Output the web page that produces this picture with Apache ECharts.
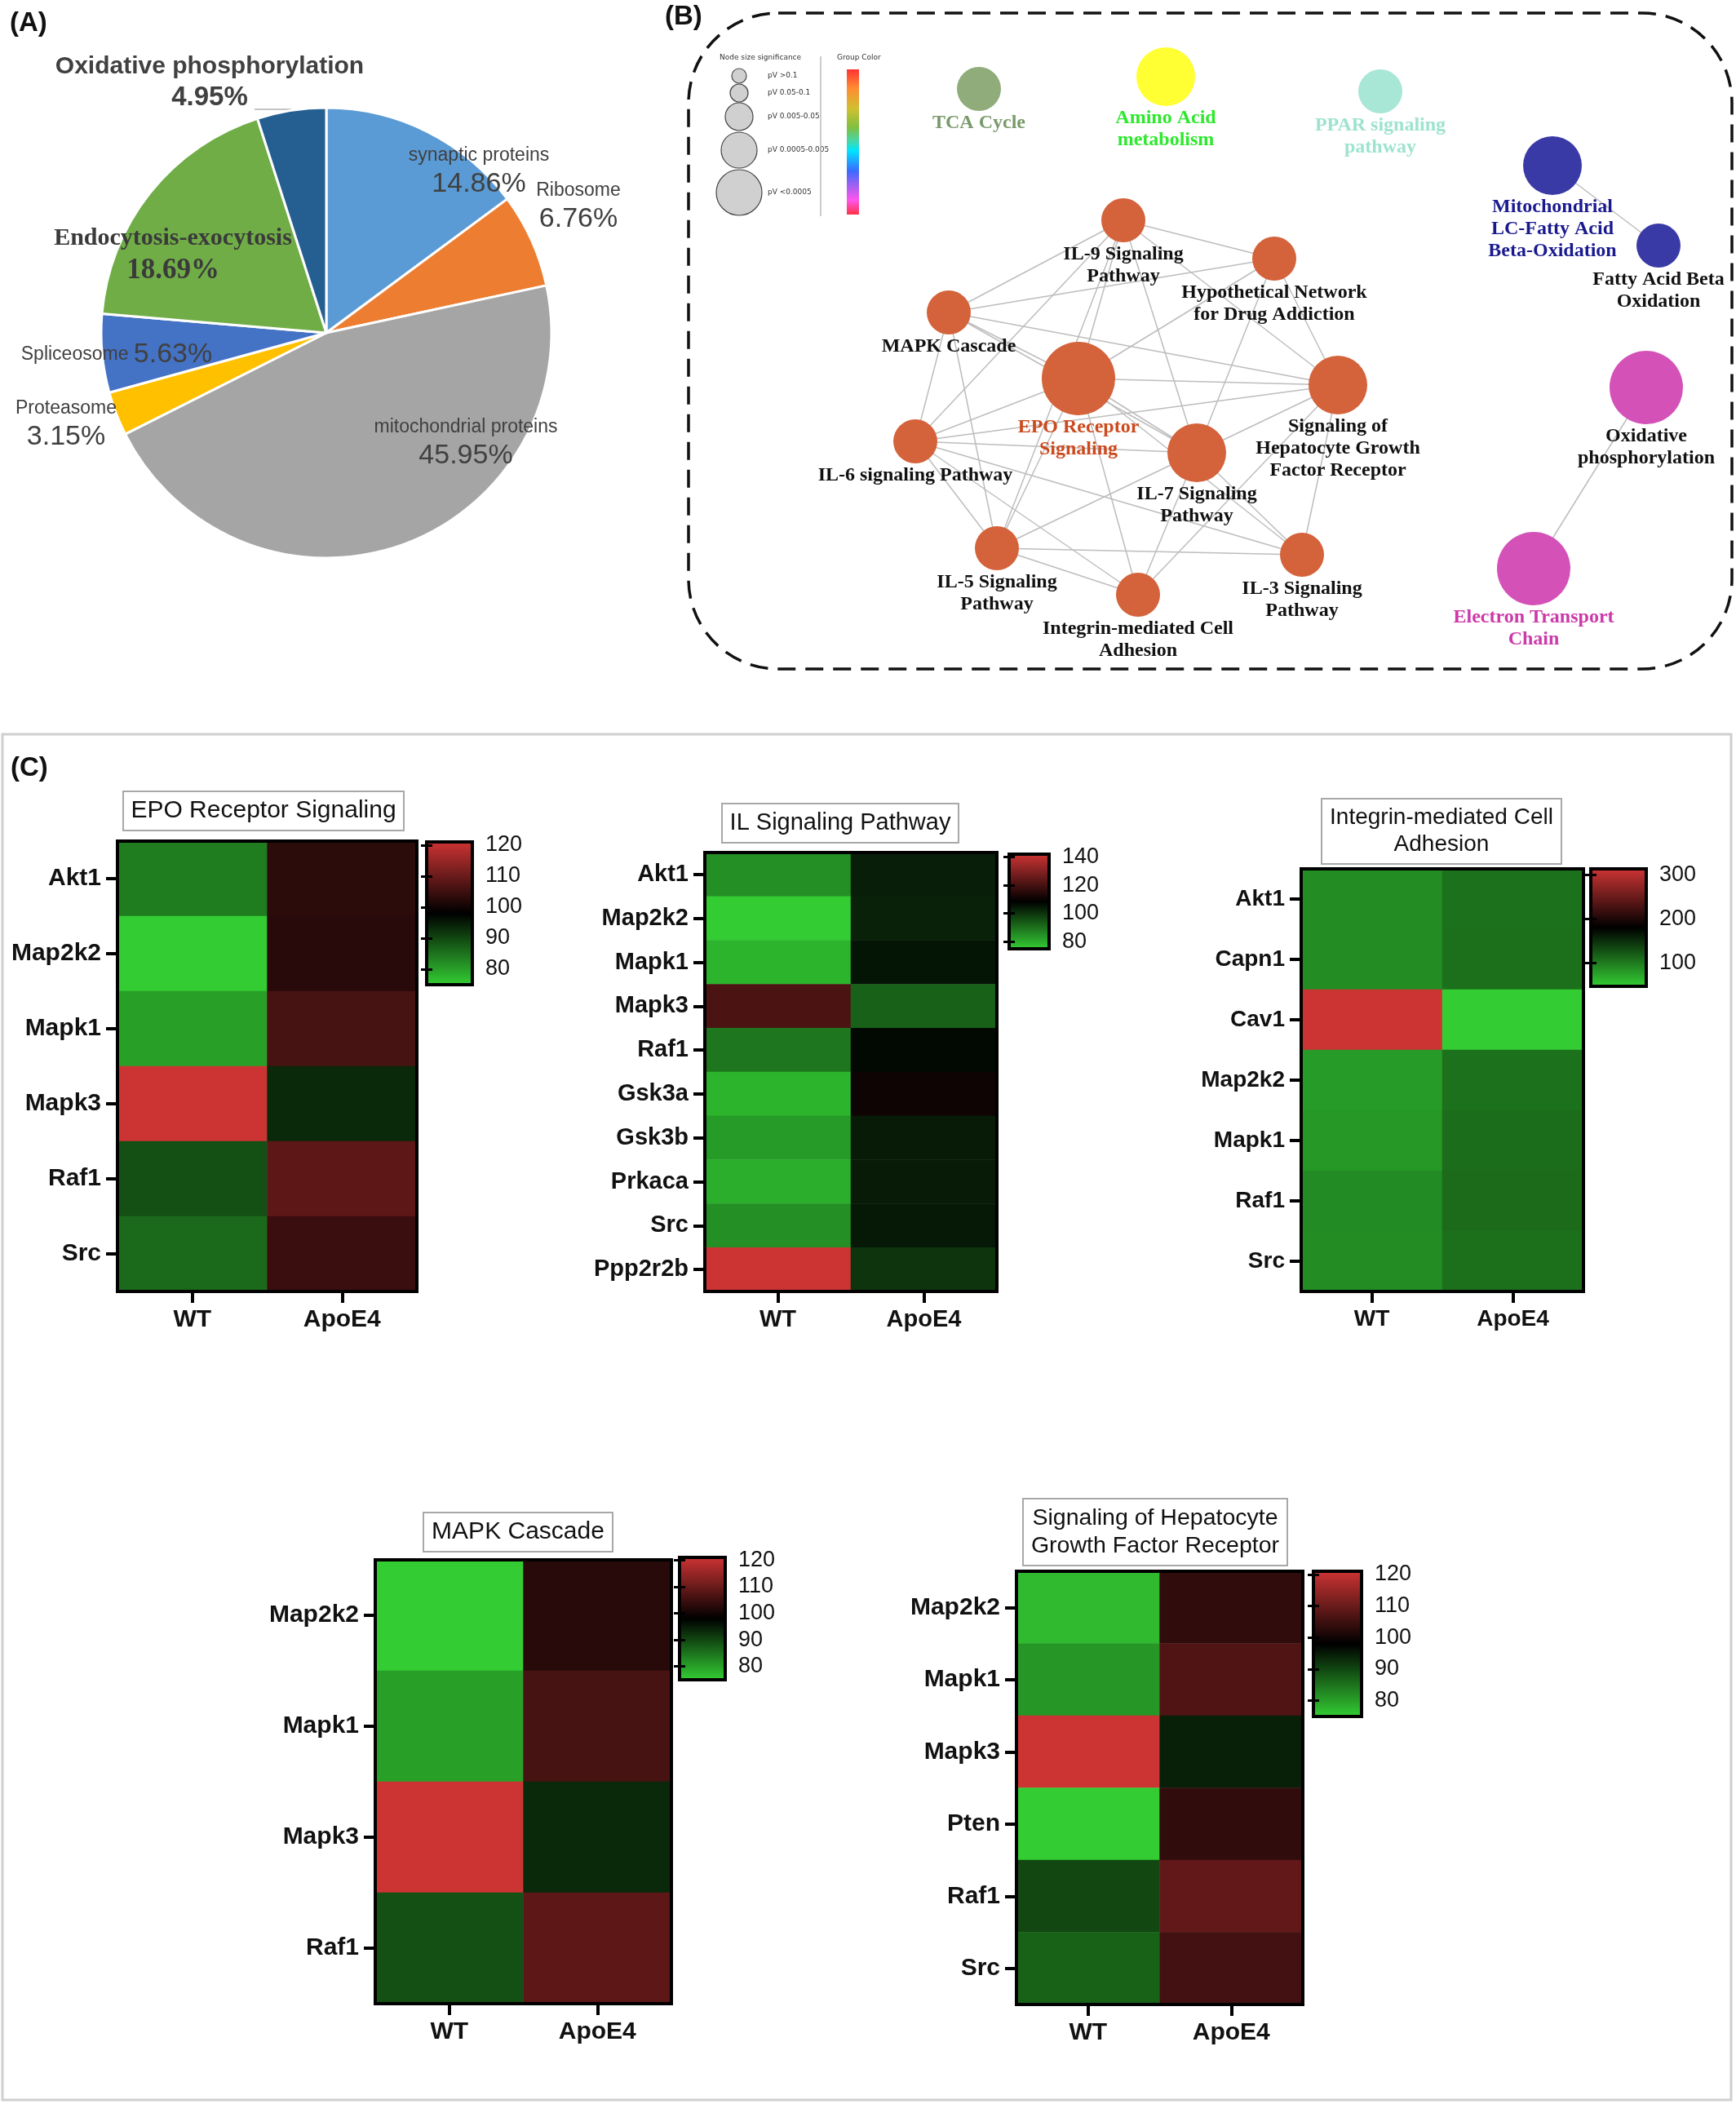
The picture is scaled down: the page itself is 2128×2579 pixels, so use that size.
<!DOCTYPE html>
<html><head><meta charset="utf-8">
<script src="https://cdn.jsdelivr.net/npm/echarts@6/dist/echarts.min.js"></script>
<style>html,body{margin:0;padding:0;background:#fff}#c{width:2128px;height:2579px}</style>
</head><body><div id="c"></div>
<script>
// ================= DATA =================
// (A) pie
const pieNames = ['synaptic proteins','Ribosome','mitochondrial proteins','Proteasome','Spliceosome','Endocytosis-exocytosis','Oxidative phosphorylation'];
const pieValues = [14.86, 6.76, 45.95, 3.15, 5.63, 18.69, 4.95];

// (B) network
const netNodes = ['IL-9 Signaling Pathway','Hypothetical Network for Drug Addiction','MAPK Cascade','EPO Receptor Signaling',
  'Signaling of Hepatocyte Growth Factor Receptor','IL-6 signaling Pathway','IL-7 Signaling Pathway','IL-5 Signaling Pathway',
  'Integrin-mediated Cell Adhesion','IL-3 Signaling Pathway','TCA Cycle','Amino Acid metabolism','PPAR signaling pathway',
  'Mitochondrial LC-Fatty Acid Beta-Oxidation','Fatty Acid Beta Oxidation','Oxidative phosphorylation','Electron Transport Chain'];
const netLinks = [
  ['IL-9 Signaling Pathway','MAPK Cascade'],['IL-9 Signaling Pathway','Hypothetical Network for Drug Addiction'],
  ['IL-9 Signaling Pathway','EPO Receptor Signaling'],['IL-9 Signaling Pathway','IL-6 signaling Pathway'],
  ['IL-9 Signaling Pathway','IL-5 Signaling Pathway'],['IL-9 Signaling Pathway','IL-7 Signaling Pathway'],
  ['IL-9 Signaling Pathway','Signaling of Hepatocyte Growth Factor Receptor'],
  ['MAPK Cascade','Hypothetical Network for Drug Addiction'],['MAPK Cascade','Signaling of Hepatocyte Growth Factor Receptor'],
  ['MAPK Cascade','EPO Receptor Signaling'],['MAPK Cascade','IL-7 Signaling Pathway'],['MAPK Cascade','IL-6 signaling Pathway'],
  ['MAPK Cascade','IL-5 Signaling Pathway'],
  ['Hypothetical Network for Drug Addiction','EPO Receptor Signaling'],['Hypothetical Network for Drug Addiction','Signaling of Hepatocyte Growth Factor Receptor'],
  ['Hypothetical Network for Drug Addiction','IL-7 Signaling Pathway'],
  ['EPO Receptor Signaling','Signaling of Hepatocyte Growth Factor Receptor'],['EPO Receptor Signaling','IL-7 Signaling Pathway'],
  ['EPO Receptor Signaling','IL-6 signaling Pathway'],['EPO Receptor Signaling','IL-5 Signaling Pathway'],
  ['EPO Receptor Signaling','Integrin-mediated Cell Adhesion'],['EPO Receptor Signaling','IL-3 Signaling Pathway'],
  ['IL-6 signaling Pathway','Signaling of Hepatocyte Growth Factor Receptor'],['IL-6 signaling Pathway','IL-7 Signaling Pathway'],
  ['IL-6 signaling Pathway','IL-5 Signaling Pathway'],['IL-6 signaling Pathway','Integrin-mediated Cell Adhesion'],
  ['IL-6 signaling Pathway','IL-3 Signaling Pathway'],
  ['IL-7 Signaling Pathway','Integrin-mediated Cell Adhesion'],['IL-7 Signaling Pathway','IL-3 Signaling Pathway'],
  ['Signaling of Hepatocyte Growth Factor Receptor','IL-5 Signaling Pathway'],['Signaling of Hepatocyte Growth Factor Receptor','Integrin-mediated Cell Adhesion'],
  ['Signaling of Hepatocyte Growth Factor Receptor','IL-3 Signaling Pathway'],
  ['IL-5 Signaling Pathway','IL-3 Signaling Pathway'],['IL-5 Signaling Pathway','Integrin-mediated Cell Adhesion'],
  ['Mitochondrial LC-Fatty Acid Beta-Oxidation','Fatty Acid Beta Oxidation'],
  ['Oxidative phosphorylation','Electron Transport Chain']
];
const sigLegendLabels = ['pV >0.1','pV 0.05-0.1','pV 0.005-0.05','pV 0.0005-0.005','pV <0.0005'];

// (C) heatmaps
const heatGroups = ['WT','ApoE4'];
const epoGenes = ['Akt1','Map2k2','Mapk1','Mapk3','Raf1','Src'];
const epoWT    = [84, 75, 80, 121, 89, 86];
const epoApoE4 = [103, 102.5, 106, 93.5, 108.5, 104.5];
const epoRange = [75, 121];
const epoTicks = [80, 90, 100, 110, 120];

const ilGenes = ['Akt1','Map2k2','Mapk1','Mapk3','Raf1','Gsk3a','Gsk3b','Prkaca','Src','Ppp2r2b'];
const ilWT    = [85, 75, 79, 121, 89, 79, 83, 80, 85, 142];
const ilApoE4 = [103.5, 103, 105, 92.5, 107, 111, 104, 104, 104.5, 100];
const ilRange = [75, 142];
const ilTicks = [80, 100, 120, 140];

const intGenes = ['Akt1','Capn1','Cav1','Map2k2','Mapk1','Raf1','Src'];
const intWT    = [89, 89, 313, 80, 82, 90, 89];
const intApoE4 = [107, 108, 48, 107, 110, 111, 108];
const intRange = [48, 313];
const intTicks = [100, 200, 300];

const mapkGenes = ['Map2k2','Mapk1','Mapk3','Raf1'];
const mapkWT    = [75, 80, 121, 89];
const mapkApoE4 = [102.5, 106, 93.5, 108.5];
const mapkRange = [75, 121];
const mapkTicks = [80, 90, 100, 110, 120];

const hgfGenes = ['Map2k2','Mapk1','Mapk3','Pten','Raf1','Src'];
const hgfWT    = [77, 81, 121, 75, 90, 87];
const hgfApoE4 = [103.5, 107, 94.5, 103.5, 109, 105.5];
const hgfRange = [75, 121];
const hgfTicks = [80, 90, 100, 110, 120];

// ================= STYLE / LAYOUT =================
const FS = '"Liberation Sans", Arial, sans-serif';
const FSERIF = '"Liberation Serif", "Times New Roman", serif';
const pieColors = ['#5b9bd5','#ed7d31','#a5a5a5','#ffc000','#4472c4','#70ad47','#255e91'];
const pieLabelPos = [[587,210],[709,253],[571,543],[81,520],[143,435],[212,313],[257,101]];

const panelB = {left:844, top:16, width:1280, height:805};
const netLayout = {
  'IL-9 Signaling Pathway':[533,254], 'Hypothetical Network for Drug Addiction':[718,301], 'MAPK Cascade':[319,367],
  'EPO Receptor Signaling':[478,448], 'Signaling of Hepatocyte Growth Factor Receptor':[796,456],
  'IL-6 signaling Pathway':[278,525], 'IL-7 Signaling Pathway':[623,539], 'IL-5 Signaling Pathway':[378,656],
  'Integrin-mediated Cell Adhesion':[551,713], 'IL-3 Signaling Pathway':[752,664], 'TCA Cycle':[356,93],
  'Amino Acid metabolism':[585,78], 'PPAR signaling pathway':[848,96], 'Mitochondrial LC-Fatty Acid Beta-Oxidation':[1059,187],
  'Fatty Acid Beta Oxidation':[1189,285], 'Oxidative phosphorylation':[1174,459], 'Electron Transport Chain':[1036,681]
};
const OR = '#d4623a';
const netStyle = {
  'IL-9 Signaling Pathway':{s:54,c:OR,t:'IL-9 Signaling\nPathway'},
  'Hypothetical Network for Drug Addiction':{s:54,c:OR,t:'Hypothetical Network\nfor Drug Addiction'},
  'MAPK Cascade':{s:54,c:OR,t:'MAPK Cascade'},
  'EPO Receptor Signaling':{s:90,c:OR,t:'EPO Receptor\nSignaling',l:'#cc4a1e'},
  'Signaling of Hepatocyte Growth Factor Receptor':{s:72,c:OR,t:'Signaling of\nHepatocyte Growth\nFactor Receptor'},
  'IL-6 signaling Pathway':{s:54,c:OR,t:'IL-6 signaling Pathway'},
  'IL-7 Signaling Pathway':{s:72,c:OR,t:'IL-7 Signaling\nPathway'},
  'IL-5 Signaling Pathway':{s:54,c:OR,t:'IL-5 Signaling\nPathway'},
  'Integrin-mediated Cell Adhesion':{s:54,c:OR,t:'Integrin-mediated Cell\nAdhesion'},
  'IL-3 Signaling Pathway':{s:54,c:OR,t:'IL-3 Signaling\nPathway'},
  'TCA Cycle':{s:54,c:'#8fac7a',t:'TCA Cycle',l:'#7a9a6a'},
  'Amino Acid metabolism':{s:72,c:'#ffff33',t:'Amino Acid\nmetabolism',l:'#2ee82e'},
  'PPAR signaling pathway':{s:54,c:'#a8e6d6',t:'PPAR signaling\npathway',l:'#9ee3cf'},
  'Mitochondrial LC-Fatty Acid Beta-Oxidation':{s:72,c:'#3a3aa6',t:'Mitochondrial\nLC-Fatty Acid\nBeta-Oxidation',l:'#1a1a8f'},
  'Fatty Acid Beta Oxidation':{s:54,c:'#3a3aa6',t:'Fatty Acid Beta\nOxidation'},
  'Oxidative phosphorylation':{s:90,c:'#d452b8',t:'Oxidative\nphosphorylation'},
  'Electron Transport Chain':{s:90,c:'#d452b8',t:'Electron Transport\nChain',l:'#cc3aaa'}
};

const heatData = [
  {title:'EPO Receptor Signaling', genes:epoGenes, wt:epoWT, apo:epoApoE4, range:epoRange, ticks:epoTicks, split:5},
  {title:'IL Signaling Pathway', genes:ilGenes, wt:ilWT, apo:ilApoE4, range:ilRange, ticks:ilTicks, split:4},
  {title:'Integrin-mediated Cell\nAdhesion', genes:intGenes, wt:intWT, apo:intApoE4, range:intRange, ticks:intTicks, split:3},
  {title:'MAPK Cascade', genes:mapkGenes, wt:mapkWT, apo:mapkApoE4, range:mapkRange, ticks:mapkTicks, split:5},
  {title:'Signaling of Hepatocyte\nGrowth Factor Receptor', genes:hgfGenes, wt:hgfWT, apo:hgfApoE4, range:hgfRange, ticks:hgfTicks, split:5}
];
const heatLayout = [
  {grid:[144,1031,367,552], bar:[523,1032,56,175], title:[313,970], tf:30, tlh:34, lf:30},
  {grid:[864,1045,358,538], bar:[1237,1047,49,116], title:[1020,985], tf:29, tlh:34, lf:29},
  {grid:[1595,1065,346,518], bar:[1950,1065,68,144], title:[1757,979], tf:28, tlh:33, lf:28},
  {grid:[460,1912,363,544], bar:[833,1909,56,150], title:[625,1854], tf:30, tlh:34, lf:30},
  {grid:[1246,1926,351,531], bar:[1610,1926,59,178], title:[1406,1837], tf:28.5, tlh:34, lf:30}
];
const heatColors = ['#33cc33','#000000','#cc3333'];

// ================= OPTION =================
const grids = [], xAxes = [], yAxes = [], series = [], visualMaps = [], titles = [];

grids.push({left:panelB.left, top:panelB.top, width:panelB.width, height:panelB.height, show:false});
xAxes.push({type:'value', gridIndex:0, min:0, max:panelB.width, show:false});
yAxes.push({type:'value', gridIndex:0, min:0, max:panelB.height, inverse:true, show:false});

// pie
series.push({
  type:'pie', center:[400,408], radius:276, startAngle:90, clockwise:true, silent:true,
  itemStyle:{borderColor:'#fff', borderWidth:3},
  labelLine:{show:false},
  label:{show:true, position:'inside', color:'#404040', fontFamily:FS,
    rich:{
      n:{fontSize:23, color:'#404040', fontFamily:FS, lineHeight:31},
      p:{fontSize:34, color:'#404040', fontFamily:FS, lineHeight:39},
      ob:{fontSize:30, fontWeight:'bold', color:'#404040', fontFamily:FS, lineHeight:37},
      obp:{fontSize:33, fontWeight:'bold', color:'#404040', fontFamily:FS, lineHeight:39},
      eb:{fontSize:30, fontWeight:'bold', color:'#3a3a3a', fontFamily:FSERIF, lineHeight:37},
      ebp:{fontSize:35, fontWeight:'bold', color:'#3a3a3a', fontFamily:FSERIF, lineHeight:41}
    },
    formatter:function(p){
      const v = p.value.toFixed(2) + '%';
      if (p.name === 'Spliceosome') return '{n|' + p.name + ' }{p|' + v + '}';
      if (p.name === 'Oxidative phosphorylation') return '{ob|' + p.name + '}\n{obp|' + v + '}';
      if (p.name === 'Endocytosis-exocytosis') return '{eb|' + p.name + '}\n{ebp|' + v + '}';
      return '{n|' + p.name + '}\n{p|' + v + '}';
    }
  },
  labelLayout:function(p){ const q = pieLabelPos[p.dataIndex]; return {x:q[0], y:q[1], align:'center', verticalAlign:'middle'}; },
  data: pieNames.map((n,i)=>({name:n, value:pieValues[i], itemStyle:{color:pieColors[i]}}))
});

// network graph
series.push({
  type:'graph', layout:'none', coordinateSystem:'cartesian2d', xAxisIndex:0, yAxisIndex:0, silent:true, z:3,
  lineStyle:{color:'#bdbdbd', width:1.5, opacity:1},
  label:{show:true, position:'bottom', distance:1, fontFamily:FSERIF, fontWeight:'bold', fontSize:24, lineHeight:27, align:'center', color:'#111'},
  data: netNodes.map(n=>({name:n, value:netLayout[n], symbolSize:netStyle[n].s, itemStyle:{color:netStyle[n].c},
    label:{formatter:netStyle[n].t, color:netStyle[n].l || '#111'}})),
  links: netLinks.map(l=>({source:l[0], target:l[1]}))
});

// heatmaps
heatData.forEach((h,k)=>{
  const L = heatLayout[k];
  const gi = grids.length;
  grids.push({left:L.grid[0], top:L.grid[1], width:L.grid[2], height:L.grid[3], show:true, z:10,
    borderColor:'#000', borderWidth:4, backgroundColor:'transparent'});
  const axisCommon = {axisLine:{show:false}, splitLine:{show:false},
    axisTick:{show:true, alignWithLabel:true, length:14, lineStyle:{color:'#000', width:4}},
    axisLabel:{fontFamily:FS, fontWeight:'bold', fontSize:L.lf, color:'#111', margin:20}};
  xAxes.push(Object.assign({type:'category', gridIndex:gi, data:heatGroups, position:'bottom'}, axisCommon));
  yAxes.push(Object.assign({type:'category', gridIndex:gi, data:h.genes, inverse:true, position:'left'}, axisCommon));
  const data = [];
  h.genes.forEach((g,r)=>{ data.push([0, r, h.wt[r]]); data.push([1, r, h.apo[r]]); });
  const si = series.length;
  series.push({type:'heatmap', xAxisIndex:xAxes.length-1, yAxisIndex:yAxes.length-1, data:data, silent:true,
    itemStyle:{borderWidth:0}, progressive:0});
  visualMaps.push({type:'continuous', seriesIndex:si, min:h.range[0], max:h.range[1], calculable:false,
    left:L.bar[0], top:L.bar[1], itemWidth:L.bar[2], itemHeight:L.bar[3], padding:0, hoverLink:false,
    inRange:{color:heatColors}, textStyle:{fontSize:1}});
  titles.push({text:h.title, left:L.title[0], top:L.title[1], textAlign:'center',
    borderColor:'#a8a8a8', borderWidth:2, padding:[7,10],
    textStyle:{fontFamily:FS, fontWeight:'normal', fontSize:L.tf, lineHeight:L.tlh, color:'#111'}});
});
// colorbar frames with tick labels
heatData.forEach((h,k)=>{
  const L = heatLayout[k];
  const gi = grids.length;
  grids.push({left:L.bar[0], top:L.bar[1], width:L.bar[2], height:L.bar[3], show:true, z:10,
    borderColor:'#000', borderWidth:4, backgroundColor:'transparent'});
  xAxes.push({type:'value', gridIndex:gi, show:false, min:0, max:1});
  const fmt = v => (h.ticks.indexOf(Math.round(v)) >= 0 && Math.abs(v - Math.round(v)) < 1e-6) ? String(Math.round(v)) : '';
  const base = {type:'value', gridIndex:gi, min:h.range[0], max:h.range[1], splitNumber:h.split, z:12,
    axisLine:{show:false}, splitLine:{show:false},
    axisTick:{show:true, inside:true, length:7, customValues:h.ticks, lineStyle:{color:'#000', width:3}}};
  yAxes.push(Object.assign({}, base, {position:'right',
    axisLabel:{show:true, fontFamily:FS, fontSize:27, color:'#111', margin:16, formatter:fmt, customValues:h.ticks}}));
  yAxes.push(Object.assign({}, base, {position:'left', axisLabel:{show:false}}));
});

titles.push({text:'(A)', left:12, top:12, textStyle:{fontFamily:FS, fontWeight:'bold', fontSize:33, color:'#111'}, padding:0});
titles.push({text:'(B)', left:815, top:4, textStyle:{fontFamily:FS, fontWeight:'bold', fontSize:33, color:'#111'}, padding:0});
titles.push({text:'(C)', left:13, top:925, textStyle:{fontFamily:FS, fontWeight:'bold', fontSize:33, color:'#111'}, padding:0});

// graphics: panel frames and network legend
const graphics = [];
graphics.push({type:'rect', z:-1, silent:true, shape:{x:3, y:900, width:2119, height:1674},
  style:{fill:'none', stroke:'#cfcfcf', lineWidth:3}});
graphics.push({type:'rect', z:-1, silent:true, shape:{x:844, y:16, width:1279, height:804, r:110},
  style:{fill:'none', stroke:'#111', lineWidth:3.5, lineDash:[22,12]}});
graphics.push({type:'line', silent:true, shape:{x1:312, y1:134, x2:357, y2:134}, style:{stroke:'#b0b0b0', lineWidth:1.5}});
const legCirc = [[93,9],[114,11],[143,17],[184,22],[236,28]];
graphics.push({type:'text', silent:true, style:{x:882, y:71, text:'Node size significance', fontFamily:'"DejaVu Sans", sans-serif', fontSize:9, fill:'#333', verticalAlign:'middle'}});
legCirc.forEach((c,i)=>{
  graphics.push({type:'circle', silent:true, shape:{cx:906, cy:c[0], r:c[1]}, style:{fill:'#d0d0d0', stroke:'#444', lineWidth:1.2}});
  graphics.push({type:'text', silent:true, style:{x:941, y:c[0], text:sigLegendLabels[i], fontFamily:'"DejaVu Sans", sans-serif', fontSize:9, fill:'#333', verticalAlign:'middle'}});
});
graphics.push({type:'line', silent:true, shape:{x1:1006, y1:69, x2:1006, y2:265}, style:{stroke:'#bbb', lineWidth:1.5}});
graphics.push({type:'text', silent:true, style:{x:1026, y:71, text:'Group Color', fontFamily:'"DejaVu Sans", sans-serif', fontSize:9, fill:'#333', verticalAlign:'middle'}});
graphics.push({type:'rect', silent:true, shape:{x:1038, y:85, width:15, height:178},
  style:{fill:new echarts.graphic.LinearGradient(0,0,0,1,[
    {offset:0,color:'#ff3333'},{offset:0.13,color:'#ff8c33'},{offset:0.27,color:'#d0c030'},{offset:0.4,color:'#7fc040'},
    {offset:0.5,color:'#40d8b0'},{offset:0.56,color:'#00e5ff'},{offset:0.7,color:'#3b6bff'},{offset:0.8,color:'#a060f0'},
    {offset:0.9,color:'#ff55ee'},{offset:1,color:'#ff3344'}])}});

const option = {
  backgroundColor:'#fff', animation:false,
  title:titles, grid:grids, xAxis:xAxes, yAxis:yAxes, visualMap:visualMaps, series:series, graphic:graphics
};
const chart = echarts.init(document.getElementById('c'), null, {renderer:'canvas'});
chart.setOption(option);
</script></body></html>
